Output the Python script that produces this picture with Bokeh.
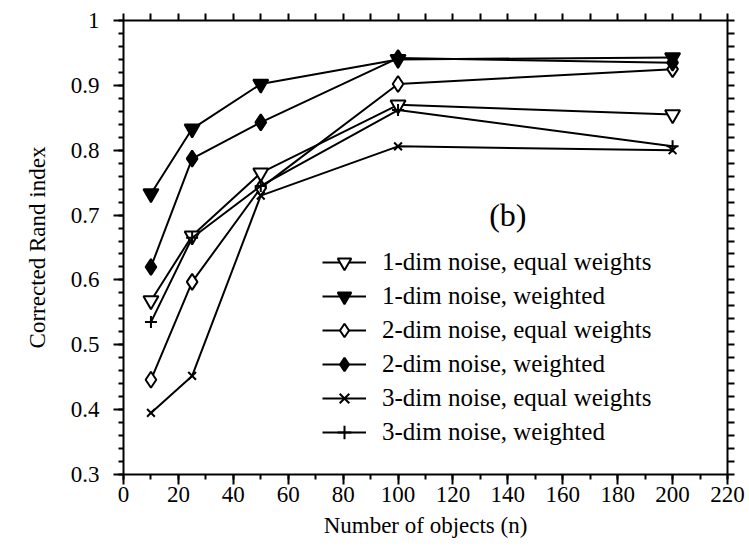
from bokeh.plotting import figure
from bokeh.models import (LinearAxis, SingleIntervalTicker, FixedTicker, Range1d,
                          Legend, LegendItem, Label, BasicTickFormatter)
from bokeh.embed import file_html
from bokeh.resources import INLINE

# ---- data ----
n_objects = [10, 25, 50, 100, 200]
one_dim_equal = [0.568, 0.668, 0.765, 0.870, 0.855]
one_dim_weighted = [0.733, 0.833, 0.902, 0.940, 0.943]
two_dim_equal = [0.446, 0.597, 0.742, 0.902, 0.925]
two_dim_weighted = [0.620, 0.787, 0.843, 0.942, 0.935]
three_dim_equal = [0.395, 0.452, 0.730, 0.806, 0.800]
three_dim_weighted = [0.535, 0.665, 0.745, 0.862, 0.806]

series_labels = ["1-dim noise, equal weights", "1-dim noise, weighted",
                 "2-dim noise, equal weights", "2-dim noise, weighted",
                 "3-dim noise, equal weights", "3-dim noise, weighted"]
series_values = [one_dim_equal, one_dim_weighted, two_dim_equal,
                 two_dim_weighted, three_dim_equal, three_dim_weighted]

# tick positions for the unlabelled top / right frame axes
top_ticks = [0, 10, 20, 30, 40, 50, 60, 70, 80, 90, 100, 110, 120, 130, 140,
             150, 160, 170, 180, 190, 200, 210, 220]
right_ticks = [0.30, 0.32, 0.34, 0.36, 0.38, 0.40, 0.42, 0.44, 0.46, 0.48,
               0.50, 0.52, 0.54, 0.56, 0.58, 0.60, 0.62, 0.64, 0.66, 0.68,
               0.70, 0.72, 0.74, 0.76, 0.78, 0.80, 0.82, 0.84, 0.86, 0.88,
               0.90, 0.92, 0.94, 0.96, 0.98, 1.00]

x_label = "Number of objects (n)"
y_label = "Corrected Rand index"
panel_tag = "(b)"

FONT = "Liberation Serif"

styles = [
    dict(marker="inverted_triangle", fill_color="white", size=15),
    dict(marker="inverted_triangle", fill_color="black", size=15),
    dict(marker="diamond", fill_color="white", size=16),
    dict(marker="diamond", fill_color="black", size=16),
    dict(marker="x", fill_color="black", size=11),
    dict(marker="cross", fill_color="black", size=12),
]

p = figure(width=749, height=559, output_backend="svg", toolbar_location=None,
           x_range=Range1d(0, 220), y_range=Range1d(0.30, 1.00),
           min_border_left=123, min_border_right=22, min_border_top=20,
           min_border_bottom=85)
p.outline_line_color = None
p.xgrid.grid_line_color = None
p.ygrid.grid_line_color = None


def style_lines(ax, tick_out):
    ax.axis_line_width = 2
    ax.axis_line_color = "black"
    ax.major_tick_line_width = 2
    ax.minor_tick_line_width = 2
    ax.major_tick_line_color = "black"
    ax.minor_tick_line_color = "black"
    ax.major_tick_in = 0
    ax.minor_tick_in = 0
    ax.major_tick_out = tick_out
    ax.minor_tick_out = 5


def style_text(ax):
    ax.major_label_text_font = FONT
    ax.major_label_text_color = "black"
    ax.major_label_text_font_size = "23px"
    ax.axis_label_text_font = FONT
    ax.axis_label_text_font_size = "23px"
    ax.axis_label_text_font_style = "normal"
    ax.axis_label_text_color = "black"


xb = p.xaxis[0]
xb.ticker = SingleIntervalTicker(interval=20, num_minor_ticks=2)
xb.formatter = BasicTickFormatter()
style_lines(xb, 10)
style_text(xb)
xb.major_label_standoff = 2
xb.axis_label = x_label
xb.axis_label_standoff = 8

yl = p.yaxis[0]
yl.ticker = SingleIntervalTicker(interval=0.1, num_minor_ticks=5)
yl.formatter = BasicTickFormatter(precision=2)
style_lines(yl, 10)
style_text(yl)
yl.major_label_standoff = 14
yl.axis_label = y_label
yl.axis_label_standoff = 18

xt = LinearAxis(ticker=FixedTicker(ticks=[], minor_ticks=top_ticks))
style_lines(xt, 9)
xt.minor_tick_out = 7
p.add_layout(xt, "above")

yr = LinearAxis(ticker=FixedTicker(ticks=[], minor_ticks=right_ticks))
style_lines(yr, 10)
yr.minor_tick_out = 7
p.add_layout(yr, "right")

items = []
for lab, vals, st in zip(series_labels, series_values, styles):
    lr = p.line(n_objects, vals, line_color="black", line_width=2)
    sr = p.scatter(n_objects, vals, marker=st["marker"], size=st["size"],
                   fill_color=st["fill_color"], line_color="black",
                   line_width=2)
    items.append(LegendItem(label=lab, renderers=[lr, sr]))

legend = Legend(items=items, location=(199, 25),
                label_text_font=FONT, label_text_font_size="25px",
                label_text_color="black", glyph_width=44, glyph_height=34,
                label_height=34, label_standoff=16, spacing=0, padding=0,
                margin=0, border_line_color=None, background_fill_alpha=0)
p.add_layout(legend)

tag = Label(x=140, y=0.70, text=panel_tag, text_font=FONT,
            text_font_size="32px", text_align="center",
            text_baseline="middle", text_color="black")
p.add_layout(tag)

open("out.html", "w").write(file_html(p, INLINE))
